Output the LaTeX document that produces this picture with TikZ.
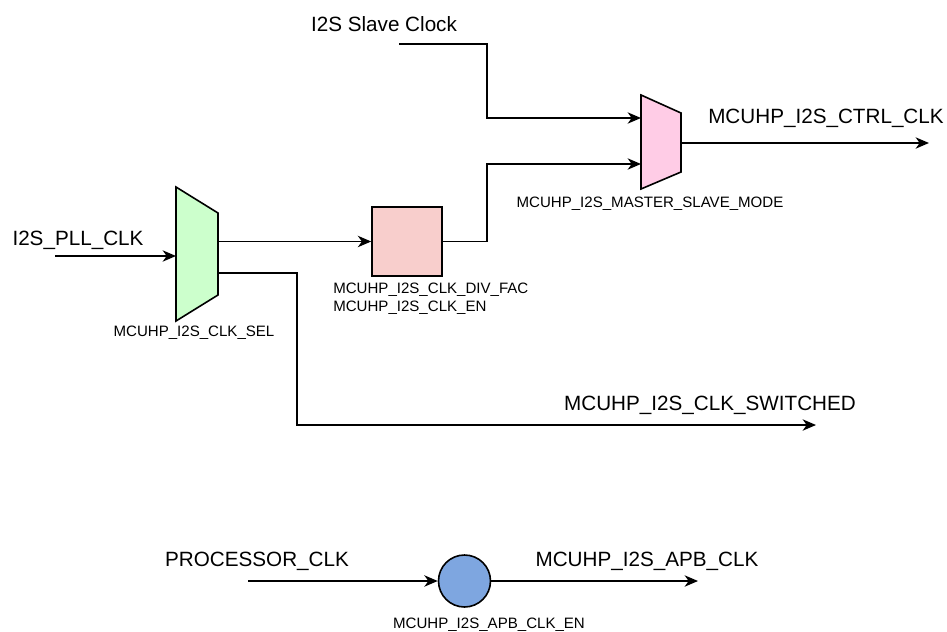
\documentclass[tikz,border=0pt]{standalone}
\usepackage{fontspec}
\setmainfont{Liberation Sans}
\usetikzlibrary{arrows.meta}
\definecolor{muxgreen}{HTML}{CCFFCC}
\definecolor{muxpink}{HTML}{FFCCE6}
\definecolor{boxred}{HTML}{F8CECC}
\definecolor{circblue}{HTML}{7EA6E0}
\tikzset{
  wire/.style={line width=1.2pt, -{Stealth[length=10pt,width=8.5pt,inset=3pt]}},
  biglbl/.style={font=\fontsize{15.5}{18}\selectfont, inner sep=0pt},
  smalllbl/.style={font=\fontsize{11.3}{13.5}\selectfont, inner sep=0pt},
  shapeline/.style={line width=1.2pt, draw=black}
}
\begin{document}
\begin{tikzpicture}[x=0.75pt,y=-0.75pt]
\useasboundingbox (0,0) rectangle (947,632);
% green mux
\filldraw[shapeline, fill=muxgreen] (176,187) -- (218,213) -- (218,295) -- (176,321) -- cycle;
\coordinate (selin) at (176,256);
\coordinate (selout1) at (218,241.5);
\coordinate (selout2) at (218,273);
% pink mux
\filldraw[shapeline, fill=muxpink] (641,95) -- (681,113) -- (681,172) -- (641,189) -- cycle;
\coordinate (msin1) at (641,118);
\coordinate (msin2) at (641,164);
\coordinate (msout) at (681,143);
% divider box
\node[shapeline, fill=boxred, minimum width=52.5pt, minimum height=51.75pt, inner sep=0pt] (div) at (407,241.5) {};
% circle
\node[shapeline, fill=circblue, circle, minimum size=39pt, inner sep=0pt] (apb) at (464.5,581) {};
% free ends
\coordinate (pllsrc) at (55,256);
\coordinate (slvsrc) at (399,44);
\coordinate (ctrlend) at (929,143);
\coordinate (swend) at (816,425);
\coordinate (procsrc) at (248,581);
\coordinate (apbend) at (698,581);
% labels
\node[biglbl] (lslave) at (384,24) {I2S Slave Clock};
\node[biglbl] (lpll) at (78,240) {I2S\_PLL\_CLK};
\node[biglbl] (lctrl) at (826,118) {MCUHP\_I2S\_CTRL\_CLK};
\node[biglbl] (lsw) at (710,405) {MCUHP\_I2S\_CLK\_SWITCHED};
\node[biglbl] (lproc) at (257,561) {PROCESSOR\_CLK};
\node[biglbl] (lapb) at (647,561) {MCUHP\_I2S\_APB\_CLK};
\node[smalllbl] (lsel) at (194,333) {MCUHP\_I2S\_CLK\_SEL};
\node[smalllbl, anchor=west] (ldiv1) at (333,290) {MCUHP\_I2S\_CLK\_DIV\_FAC};
\node[smalllbl, anchor=west] (ldiv2) at (333,308) {MCUHP\_I2S\_CLK\_EN};
\node[smalllbl] (lms) at (650,204) {MCUHP\_I2S\_MASTER\_SLAVE\_MODE};
\node[smalllbl] (len) at (489,625) {MCUHP\_I2S\_APB\_CLK\_EN};
% connectors
\draw[wire] (pllsrc) -- (selin);
\draw[wire] (selout1) -- (div.west);
\draw[wire] (selout2) -- (297,273) -- (297,425) -- (swend);
\draw[wire] (div.east) -- (487,241.5) -- (487,164) -- (msin2);
\draw[wire] (slvsrc) -- (487,44) -- (487,118) -- (msin1);
\draw[wire] (msout) -- (ctrlend);
\draw[wire] (procsrc) -- (apb.west);
\draw[wire] (apb.east) -- (apbend);
\end{tikzpicture}
\end{document}
